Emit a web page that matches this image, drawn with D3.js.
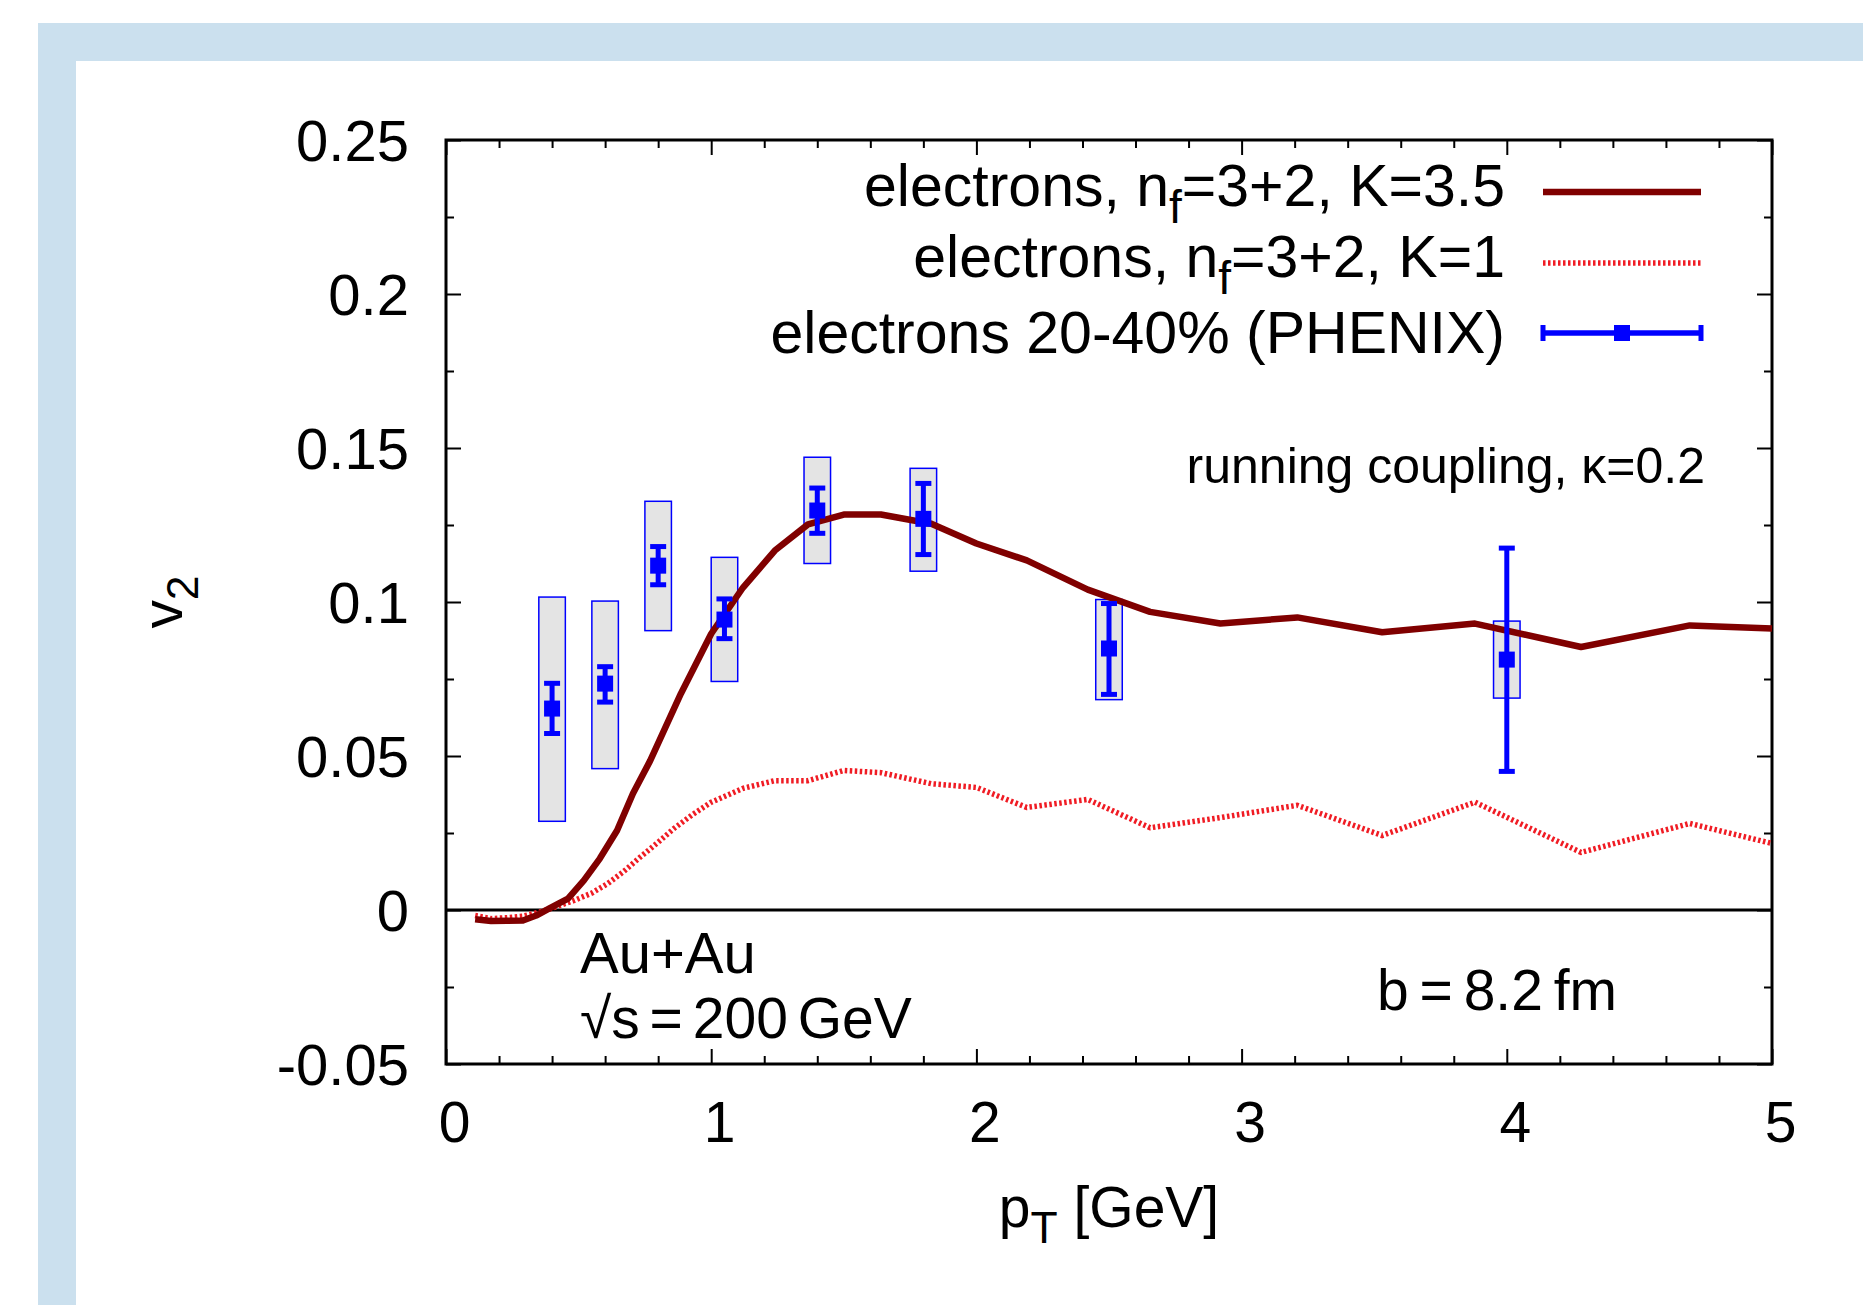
<!DOCTYPE html>
<html>
<head>
<meta charset="utf-8">
<script src="https://cdn.jsdelivr.net/npm/d3@7"></script>
<style>
  body { margin: 0; background: #fff; }
  svg text { font-family: "Liberation Sans", Arial, Helvetica, sans-serif; fill: #000; }
</style>
</head>
<body>
<div id="chart-area"></div>
<script>

// model curves, [pT (GeV), v2]
const curveK35 = [[0.11,-0.003],[0.17,-0.0036],[0.23,-0.0035],[0.29,-0.0034],[0.34,-0.0018],[0.39,0.0005],
	[0.46,0.0037],[0.52,0.0096],[0.58,0.0167],[0.645,0.0258],[0.705,0.0378],[0.77,0.0485],[0.886,0.0703],
	[1.0,0.0897],[1.12,0.1047],[1.24,0.1167],[1.365,0.1252],[1.5,0.1284],[1.64,0.1284],[1.83,0.1254],
	[2.0,0.119],[2.19,0.1135],[2.42,0.104],[2.655,0.0968],[2.92,0.093],[3.21,0.095],[3.53,0.0902],
	[3.88,0.093],[4.28,0.0854],[4.69,0.0924],[5.0,0.0914]];

const curveK1 = [[0.11,-0.0018],[0.17,-0.0028],[0.23,-0.0025],[0.29,-0.002],[0.36,-0.0005],[0.42,0.0012],
	[0.48,0.003],[0.55,0.0055],[0.61,0.0086],[0.67,0.0125],[0.73,0.017],[0.80,0.022],[0.86,0.0265],
	[0.93,0.031],[1.0,0.035],[1.12,0.0395],[1.24,0.042],[1.365,0.042],[1.5,0.0453],[1.64,0.0446],
	[1.83,0.041],[2.0,0.0398],[2.19,0.0333],[2.42,0.0359],[2.655,0.0267],[2.92,0.030],[3.21,0.034],
	[3.53,0.0242],[3.88,0.035],[4.28,0.0187],[4.69,0.0281],[5.0,0.0216]];

// PHENIX electrons 20-40%
const phenixPt     = [0.4, 0.6, 0.8, 1.05, 1.4, 1.8, 2.5, 4.0];
const phenixV2     = [0.0654, 0.0735, 0.1118, 0.0943, 0.1297, 0.127, 0.0849, 0.0813];
const phenixStatLo = [0.0573, 0.0675, 0.1056, 0.0881, 0.1223, 0.1154, 0.070, 0.045];
const phenixStatHi = [0.0736, 0.079, 0.118, 0.101, 0.137, 0.1385, 0.0995, 0.1175];
const phenixSysLo  = [0.0288, 0.0459, 0.0907, 0.0742, 0.1125, 0.110, 0.0683, 0.0688];
const phenixSysHi  = [0.1016, 0.1003, 0.1327, 0.1145, 0.147, 0.1434, 0.1008, 0.0938];
const sysHalfWidth = 0.05;

// axes
const xTicks = [0, 1, 2, 3, 4, 5];
const xTickLabels = ["0", "1", "2", "3", "4", "5"];
const yTicks = [-0.05, 0, 0.05, 0.1, 0.15, 0.2, 0.25];
const yTickLabels = ["-0.05", "0", "0.05", "0.1", "0.15", "0.2", "0.25"];
const yMinorTicks = [-0.025, 0.025, 0.075, 0.125, 0.175, 0.225];

// legend entries: [text before subscript, subscript, text after]
const legendLabels = [
	["electrons, n", "f", "=3+2, K=3.5"],
	["electrons, n", "f", "=3+2, K=1"],
	["electrons 20-40% (PHENIX)", "", ""]
];


class V2Chart {

constructor(parentElement) {
	this.parentElement = parentElement;
	this.margin = {top: 140, right: 91, bottom: 241, left: 446};
	this.width = 1863 - this.margin.left - this.margin.right;
	this.height = 1305 - this.margin.top - this.margin.bottom;

	this.darkRed = "#800000";
	this.red = "#f01c24";
	this.blue = "#0000ff";
	this.fontSize = 57;
}

	// text with one subscript part
	subText(sel, parts, size) {
		sel.append("tspan").text(parts[0]);
		if (parts[1]) {
			sel.append("tspan").attr("dy", size * 0.28).attr("font-size", size * 0.78).text(parts[1]);
			sel.append("tspan").attr("dy", -size * 0.28).text(parts[2]);
		}
		return sel;
	}

	initVis() {
		let vis = this;

		vis.root = d3.select("#" + vis.parentElement).append("svg")
			.attr("width", 1863)
			.attr("height", 1305);

		// light blue slide frame
		vis.root.append("rect")
			.attr("x", 38).attr("y", 23).attr("width", 1825).attr("height", 1282)
			.attr("fill", "#cbe0ee");
		vis.root.append("rect")
			.attr("x", 76).attr("y", 61).attr("width", 1787).attr("height", 1244)
			.attr("fill", "#ffffff");

		vis.svg = vis.root.append("g")
			.attr("transform", "translate(" + vis.margin.left + "," + vis.margin.top + ")");

		vis.x = d3.scaleLinear().domain([0, 5]).range([0, vis.width]);
		vis.y = d3.scaleLinear().domain([-0.05, 0.25]).range([vis.height, 0]);

		let tidy = g => {
			g.select(".domain").remove();
			g.attr("font-size", null).attr("font-family", null);
			g.selectAll("line").attr("stroke", "#000").attr("stroke-width", 2);
			g.selectAll("text").attr("font-size", vis.fontSize);
		};

		// major ticks, inward
		vis.svg.append("g")
			.attr("transform", "translate(0," + vis.height + ")")
			.call(d3.axisBottom(vis.x).tickValues(xTicks).tickSize(-15).tickPadding(38)
				.tickFormat((d, i) => xTickLabels[i]))
			.call(tidy)
			.selectAll("text").attr("x", 8);
		vis.svg.append("g")
			.call(d3.axisTop(vis.x).tickValues(xTicks).tickSize(-15).tickFormat(""))
			.call(tidy);
		vis.svg.append("g")
			.call(d3.axisLeft(vis.y).tickValues(yTicks).tickSize(-15).tickPadding(37)
				.tickFormat((d, i) => yTickLabels[i]))
			.call(tidy)
			.selectAll("text").attr("dy", "0.35em").attr("font-size", 58);
		vis.svg.append("g")
			.attr("transform", "translate(" + vis.width + ",0)")
			.call(d3.axisRight(vis.y).tickValues(yTicks).tickSize(-15).tickFormat(""))
			.call(tidy);

		// minor ticks
		let xMinor = vis.x.ticks(25).filter(d => !xTicks.includes(d));
		vis.svg.append("g")
			.attr("transform", "translate(0," + vis.height + ")")
			.call(d3.axisBottom(vis.x).tickValues(xMinor).tickSize(-8).tickFormat(""))
			.call(tidy);
		vis.svg.append("g")
			.call(d3.axisTop(vis.x).tickValues(xMinor).tickSize(-8).tickFormat(""))
			.call(tidy);
		vis.svg.append("g")
			.call(d3.axisLeft(vis.y).tickValues(yMinorTicks).tickSize(-8).tickFormat(""))
			.call(tidy);
		vis.svg.append("g")
			.attr("transform", "translate(" + vis.width + ",0)")
			.call(d3.axisRight(vis.y).tickValues(yMinorTicks).tickSize(-8).tickFormat(""))
			.call(tidy);

		// zero line
		vis.svg.append("line")
			.attr("x1", vis.x(0)).attr("x2", vis.x(5))
			.attr("y1", vis.y(0)).attr("y2", vis.y(0))
			.attr("stroke", "#000").attr("stroke-width", 3);

		// frame
		vis.svg.append("rect")
			.attr("width", vis.width).attr("height", vis.height)
			.attr("fill", "none").attr("stroke", "#000").attr("stroke-width", 3);

		// axis titles
		vis.subText(vis.svg.append("text")
			.attr("x", vis.width / 2).attr("y", 1087)
			.attr("text-anchor", "middle").attr("font-size", vis.fontSize), ["p", "T", " [GeV]"], vis.fontSize);

		vis.subText(vis.svg.append("text")
			.attr("transform", "translate(-264," + (vis.height / 2) + ") rotate(-90)")
			.attr("text-anchor", "middle").attr("font-size", vis.fontSize), ["v", "2", ""], vis.fontSize);

		// annotations
		vis.svg.append("text")
			.attr("x", 1259).attr("y", 343)
			.attr("text-anchor", "end").attr("font-size", 50)
			.text("running coupling, \u03ba=0.2");
		vis.svg.append("text")
			.attr("x", 134).attr("y", 833).attr("font-size", 58)
			.text("Au+Au");
		vis.svg.append("text")
			.attr("x", 134).attr("y", 898).attr("font-size", vis.fontSize)
			.attr("word-spacing", -6)
			.text("\u221as = 200 GeV");
		vis.svg.append("text")
			.attr("x", 931).attr("y", 870).attr("font-size", vis.fontSize)
			.attr("word-spacing", -5)
			.text("b = 8.2 fm");

		vis.initLegend();
		vis.updateVis();
	}

	initLegend() {
		let vis = this;
		let textY = [66, 137, 213];
		let lineY = [52, 123, 193];
		let x0 = 1097, x1 = 1255;
		let size = 59;

		legendLabels.forEach((parts, i) => {
			vis.subText(vis.svg.append("text")
				.attr("x", 1059).attr("y", textY[i])
				.attr("text-anchor", "end").attr("font-size", size), parts, size);
		});

		vis.svg.append("line")
			.attr("x1", x0).attr("x2", x1).attr("y1", lineY[0]).attr("y2", lineY[0])
			.attr("stroke", vis.darkRed).attr("stroke-width", 6.5);
		vis.svg.append("line")
			.attr("x1", x0).attr("x2", x1).attr("y1", lineY[1]).attr("y2", lineY[1])
			.attr("stroke", vis.red).attr("stroke-width", 5.5).attr("stroke-dasharray", "2.5,2.5");

		let g = vis.svg.append("g").attr("transform", "translate(0," + lineY[2] + ")");
		g.append("line").attr("x1", x0).attr("x2", x1)
			.attr("stroke", vis.blue).attr("stroke-width", 5.5);
		[x0, x1].forEach(x => g.append("line")
			.attr("x1", x).attr("x2", x).attr("y1", -8).attr("y2", 8)
			.attr("stroke", vis.blue).attr("stroke-width", 5));
		g.append("rect")
			.attr("x", (x0 + x1) / 2 - 8).attr("y", -8).attr("width", 16).attr("height", 16)
			.attr("fill", vis.blue);
	}

	updateVis() {
		let vis = this;

		let points = phenixPt.map((pt, i) => ({
			pt: pt, v2: phenixV2[i],
			statLo: phenixStatLo[i], statHi: phenixStatHi[i],
			sysLo: phenixSysLo[i], sysHi: phenixSysHi[i]
		}));

		// systematic boxes
		vis.svg.selectAll(".sys")
			.data(points)
			.enter().append("rect")
			.attr("class", "sys")
			.attr("x", d => vis.x(d.pt - sysHalfWidth))
			.attr("width", d => vis.x(d.pt + sysHalfWidth) - vis.x(d.pt - sysHalfWidth))
			.attr("y", d => vis.y(d.sysHi))
			.attr("height", d => vis.y(d.sysLo) - vis.y(d.sysHi))
			.attr("fill", "#e4e4e4")
			.attr("stroke", vis.blue)
			.attr("stroke-width", 1.5);

		let line = d3.line()
			.x(d => vis.x(d[0]))
			.y(d => vis.y(d[1]));

		vis.svg.append("path")
			.datum(curveK1)
			.attr("d", line)
			.attr("fill", "none")
			.attr("stroke", vis.red)
			.attr("stroke-width", 5.5)
			.attr("stroke-dasharray", "2.5,2.5");

		vis.svg.append("path")
			.datum(curveK35)
			.attr("d", line)
			.attr("fill", "none")
			.attr("stroke", vis.darkRed)
			.attr("stroke-width", 6.5)
			.attr("stroke-linejoin", "round");

		// statistical error bars + markers
		let bars = vis.svg.selectAll(".stat")
			.data(points)
			.enter().append("g")
			.attr("class", "stat")
			.attr("transform", d => "translate(" + vis.x(d.pt) + ",0)");

		bars.append("line")
			.attr("y1", d => vis.y(d.statLo))
			.attr("y2", d => vis.y(d.statHi))
			.attr("stroke", vis.blue).attr("stroke-width", 5);
		bars.selectAll(".cap")
			.data(d => [d.statLo, d.statHi])
			.enter().append("line")
			.attr("class", "cap")
			.attr("x1", -8).attr("x2", 8)
			.attr("y1", v => vis.y(v)).attr("y2", v => vis.y(v))
			.attr("stroke", vis.blue).attr("stroke-width", 5);
		bars.append("rect")
			.attr("x", -8).attr("width", 16)
			.attr("y", d => vis.y(d.v2) - 8).attr("height", 16)
			.attr("fill", vis.blue);
	}
}

let chart = new V2Chart("chart-area");
chart.initVis();

</script>
</body>
</html>
